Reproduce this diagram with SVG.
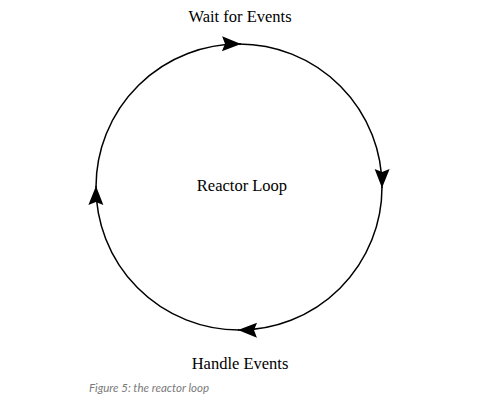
<svg xmlns="http://www.w3.org/2000/svg" width="479" height="406" viewBox="0 0 479 406">
<style>
.lbl{font-family:"Liberation Serif","Times New Roman",serif;font-size:16.5px;fill:#000;text-anchor:middle}
.arc{fill:none;stroke:#000;stroke-width:1.5;marker-end:url(#ah)}
.cap{font-family:Lato,"Open Sans",sans-serif;font-style:italic;font-size:11.5px;fill:#7a7a7a}
</style>
<defs>
<marker id="ah" markerUnits="userSpaceOnUse" markerWidth="26" markerHeight="18" viewBox="-22 -9 26 18" refX="0" refY="0" orient="auto">
<path d="M0,0 L-19,-7.5 L-16,0 L-19,7.5 Z" fill="#000"/>
</marker>
</defs>
<rect width="479" height="406" fill="#fff"/>
<g id="connectors">
<path class="arc" d="M96,187 A143,143 0 0 1 241,44"/>
<path class="arc" d="M239,44 A143,143 0 0 1 382,188"/>
<path class="arc" d="M382,187 A143,143 0 0 1 238,330"/>
<path class="arc" d="M239,330 A143,143 0 0 1 96,186"/>
</g>
<g id="wait"><text class="lbl" x="240" y="22">Wait for Events</text></g>
<g id="reactor"><text class="lbl" x="242" y="191">Reactor Loop</text></g>
<g id="handle"><text class="lbl" x="240" y="369">Handle Events</text></g>
<g id="caption"><text class="cap" x="89" y="392">Figure 5: the reactor loop</text></g>
</svg>
